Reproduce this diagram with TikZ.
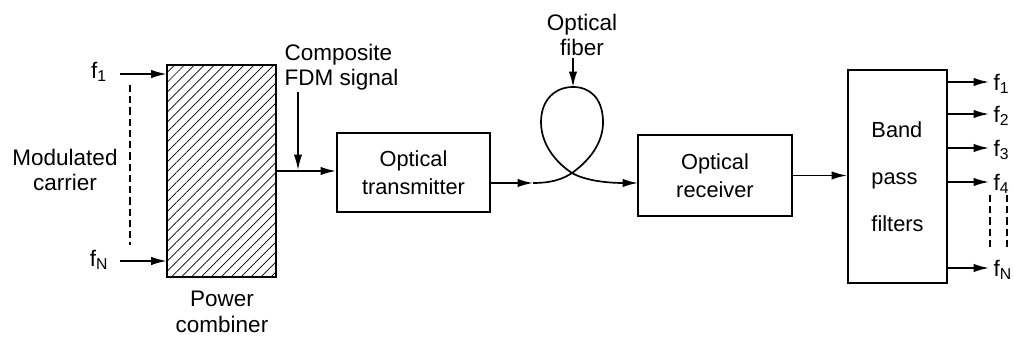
\documentclass[tikz,border=0pt]{standalone}
\usepackage{fontspec}
\setmainfont{Liberation Sans}
\usetikzlibrary{positioning, arrows.meta, calc, patterns.meta}
\tikzset{
  block/.style={rectangle, draw=black, line width=1.4pt, align=center, font=\fontsize{15.5}{20}\selectfont},
  combiner/.style={rectangle, draw=black, line width=1.4pt, minimum width=2.725cm, minimum height=5.3cm, pattern={Lines[angle=45, distance=5pt, line width=0.5pt]}},
  filterbox/.style={rectangle, draw=black, line width=1.4pt, minimum width=2.475cm, minimum height=5.325cm, align=left, font=\fontsize{15.5}{33.5}\selectfont},
  tag/.style={font=\fontsize{16}{18}\selectfont, align=center, inner sep=1pt},
  arrow/.style={line width=1.2pt, -{Latex[length=11pt, width=6pt]}},
  dots/.style={line width=1pt, dash pattern=on 5pt off 3pt}
}

\begin{document}
\begin{tikzpicture}[x=0.025cm, y=-0.025cm]

    \useasboundingbox (0,0) rectangle (1014,339);

    % 1. Entradas y combinador de potencia
    \node[combiner] (comb) at (221.5,171) {};
    \node[tag] (lf1) at (99,72) {f\textsubscript{1}};
    \node[tag] (lfN) at (99,260) {f\textsubscript{N}};
    \node[tag] (mod) at (65,170) {Modulated\\carrier};
    \node[tag] (pc) at (222,312) {Power\\combiner};
    \coordinate (in1) at (120,74);
    \coordinate (inN) at (120,261);
    \draw[arrow] (in1) -- (in1 -| comb.west);
    \draw[arrow] (inN) -- (inN -| comb.west);
    \coordinate (d1) at (130,85);
    \coordinate (d2) at (130,245);
    \draw[dots] (d1) -- (d2);

    % 2. Transmisor optico
    \node[block, minimum width=3.825cm, minimum height=1.975cm] (tx) at (413.5,172.5) {Optical\\transmitter};
    \draw[arrow] (comb.east) -- (comb.east -| tx.west);
    \node[tag, align=left, anchor=west] (comp) at (283,67) {Composite\\FDM signal};
    \coordinate (cfdm) at (298,170);
    \draw[arrow] (comp.south -| cfdm) -- (cfdm);

    % 3. Fibra optica (lazo)
    \node[block, minimum width=3.85cm, minimum height=2.025cm] (rx) at (715,175.5) {Optical\\receiver};
    \coordinate (fin) at (490,183);
    \coordinate (fm) at (533,183);
    \coordinate (fout) at (638,183);
    \coordinate (ftop) at (573,87);
    \draw[arrow] (fin) -- (fm);
    \draw[arrow] (fm) .. controls (552,183) and (563,179) .. (572,173)
        .. controls (590,160) and (604,142) .. (603,120)
        .. controls (602,98) and (590,87) .. (ftop)
        .. controls (555,87) and (541,100) .. (541,122)
        .. controls (541,146) and (558,164) .. (572,173)
        .. controls (584,180) and (605,183) .. (fout);
    \node[tag] (fib) at (582,35) {Optical\\fiber};
    \draw[arrow] (fib.south -| ftop) -- (ftop);

    % 4. Filtros pasa banda y salidas
    \node[filterbox] (bpf) at (897.5,176.5) {Band\\pass\\filters};
    \draw[arrow] (rx.east) -- (rx.east -| bpf.west);
    \foreach \y/\n in {82/1, 114/2, 148/3, 182/4, 268/N} {
        \coordinate (o\n) at (989,\y);
        \draw[arrow] (bpf.east |- o\n) -- (o\n);
        \node[tag, anchor=west] (lo\n) at (992,\y+2) {f\textsubscript{\n}};
    }
    \coordinate (e1) at (990,195);
    \coordinate (e2) at (990,250);
    \coordinate (e3) at (1007,195);
    \coordinate (e4) at (1007,250);
    \draw[dots] (e1) -- (e2);
    \draw[dots] (e3) -- (e4);

\end{tikzpicture}
\end{document}
